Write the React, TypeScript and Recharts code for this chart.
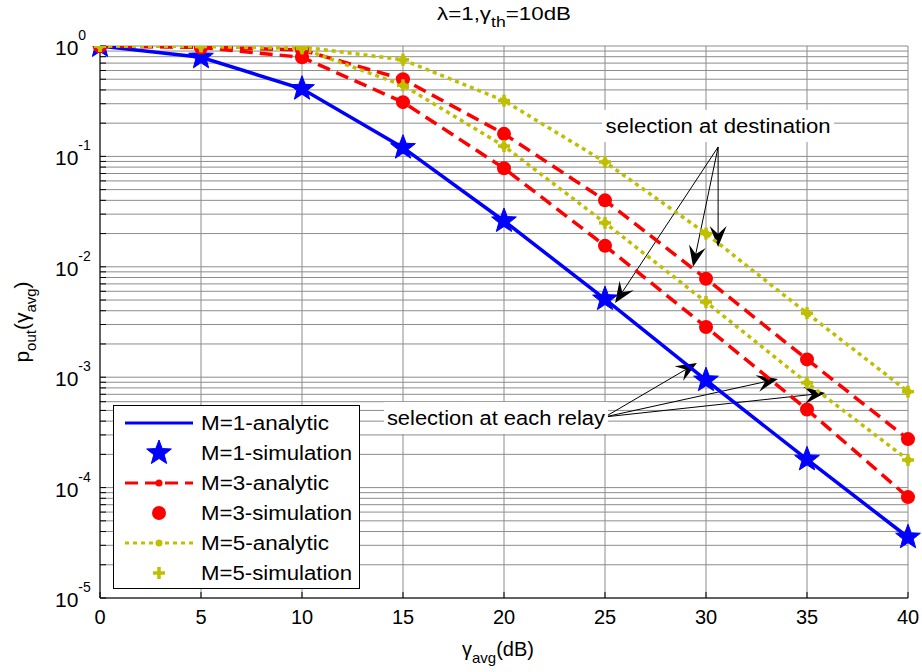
import React from "react";
import { LineChart, Line, XAxis, YAxis, CartesianGrid, ReferenceLine, ReferenceDot } from "recharts";

const FONT = "'Liberation Sans', Arial, Helvetica, sans-serif";

// gamma_avg (dB)
const gammaDb = [0, 5, 10, 15, 20, 25, 30, 35, 40];

// outage probability
const m1 = [1, 0.79, 0.41, 0.12, 0.026, 0.0051, 0.00094, 0.00018, 0.0000355];
const m3Dest = [1, 0.98, 0.92, 0.5, 0.16, 0.04, 0.0078, 0.00145, 0.000275];
const m3Relay = [1, 0.97, 0.79, 0.31, 0.078, 0.0155, 0.00285, 0.00051, 0.000082];
const m5Dest = [1, 1, 0.98, 0.75, 0.32, 0.089, 0.02, 0.0038, 0.00074];
const m5Relay = [1, 0.99, 0.95, 0.44, 0.124, 0.025, 0.0048, 0.00089, 0.000178];

const xTicks = [0, 5, 10, 15, 20, 25, 30, 35, 40];
const decades = [-5, -4, -3, -2, -1];
const mantissas = [1, 2, 3, 4, 5, 6, 7, 8, 9];

const yTicks: number[] = [];
decades.forEach((e) => mantissas.forEach((m) => yTicks.push(m * Math.pow(10, e))));
yTicks.push(1);

const BLUE = "#0000ff";
const RED = "#ff0000";
const YELLOW = "#bfbf00";

const data = gammaDb.map((g, i) => ({
  g,
  m1: m1[i],
  m1Sim: m1[i],
  m3d: m3Dest[i],
  m3r: m3Relay[i],
  m3dSim: m3Dest[i],
  m3rSim: m3Relay[i],
  m5d: m5Dest[i],
  m5r: m5Relay[i],
  m5dSim: m5Dest[i],
  m5rSim: m5Relay[i],
}));

// annotation anchors (data coordinates)
const destFrom = { x: 30.6, y: 0.1217 };
const destTo = [
  { x: 25.5, y: 0.0047 },
  { x: 29.36, y: 0.01 },
  { x: 30.6, y: 0.0151 },
];
const relayFrom = { x: 25.0, y: 0.000437 };
const relayTo = [
  { x: 29.55, y: 0.001345 },
  { x: 33.56, y: 0.000964 },
  { x: 35.9, y: 0.000719 },
];
const destLabel = { x: 30.6, y: 0.1885, text: "selection at destination" };
const relayLabel = { x: 19.6, y: 0.000427, text: "selection at each relay" };

function Star({ cx, cy, r = 13, fill = BLUE }: { cx: number; cy: number; r?: number; fill?: string }) {
  const pts: string[] = [];
  for (let i = 0; i < 10; i++) {
    const rad = i % 2 === 0 ? r : r * 0.42;
    const a = -Math.PI / 2 + (i * Math.PI) / 5;
    pts.push(`${cx + rad * Math.cos(a)},${cy + rad * Math.sin(a)}`);
  }
  return <polygon points={pts.join(" ")} fill={fill} stroke={fill} strokeWidth={1} />;
}

function Plus({ cx, cy }: { cx: number; cy: number }) {
  return (
    <g stroke={YELLOW} strokeWidth={3.5}>
      <line x1={cx - 6} y1={cy} x2={cx + 6} y2={cy} />
      <line x1={cx} y1={cy - 6} x2={cx} y2={cy + 6} />
    </g>
  );
}

const starDot = (p: any) => <Star key={`s-${p.index}`} cx={p.cx} cy={p.cy} />;
const redBig = (p: any) => <circle key={`r-${p.index}`} cx={p.cx} cy={p.cy} r={7} fill={RED} />;
const redSmall = (p: any) => <circle key={`rs-${p.index}`} cx={p.cx} cy={p.cy} r={3.5} fill={RED} />;
const yelSmall = (p: any) => <circle key={`ys-${p.index}`} cx={p.cx} cy={p.cy} r={3.5} fill={YELLOW} />;
const plusDot = (p: any) => <Plus key={`p-${p.index}`} cx={p.cx} cy={p.cy} />;

function YTick(props: any) {
  const { x, y, payload } = props;
  const e = Math.log10(payload.value);
  if (Math.abs(e - Math.round(e)) > 1e-6) return <g />;
  return (
    <text x={x - 45} y={y + 9} fontFamily={FONT} fontSize={21} fill="#000">
      10
      <tspan dy={-15} fontSize={14}>
        {Math.round(e)}
      </tspan>
    </text>
  );
}

function XTick(props: any) {
  const { x, y, payload } = props;
  return (
    <text x={x} y={y + 26} textAnchor="middle" fontFamily={FONT} fontSize={20} fill="#000">
      {payload.value}
    </text>
  );
}

function Arrow(p: any) {
  const { x1, y1, x2, y2 } = p;
  const dx = x2 - x1;
  const dy = y2 - y1;
  const len = Math.hypot(dx, dy) || 1;
  const ux = dx / len;
  const uy = dy / len;
  const nx = -uy;
  const ny = ux;
  const L = 21;
  const W = 8.5;
  const N = 13;
  const bx = x2 - ux * L;
  const by = y2 - uy * L;
  const pts = [
    [x2, y2],
    [bx + nx * W, by + ny * W],
    [x2 - ux * N, y2 - uy * N],
    [bx - nx * W, by - ny * W],
  ]
    .map((q) => q.join(","))
    .join(" ");
  return (
    <g>
      <line x1={x1} y1={y1} x2={x2 - ux * N} y2={y2 - uy * N} stroke="#000" strokeWidth={1} />
      <polygon points={pts} fill="#000" />
    </g>
  );
}

const boxLabel = (text: string, w: number, textLen: number) => (p: any) => (
  <g>
    <rect x={p.cx - w / 2} y={p.cy - 16} width={w} height={32} fill="#fff" />
    <text
      x={p.cx}
      y={p.cy + 7}
      textAnchor="middle"
      fontFamily={FONT}
      fontSize={20}
      fill="#000"
      textLength={textLen}
      lengthAdjust="spacingAndGlyphs"
    >
      {text}
    </text>
  </g>
);

const legendRows = [
  { label: "M=1-analytic", kind: "blueLine" },
  { label: "M=1-simulation", kind: "star" },
  { label: "M=3-analytic", kind: "redLine" },
  { label: "M=3-simulation", kind: "redDot" },
  { label: "M=5-analytic", kind: "yelLine" },
  { label: "M=5-simulation", kind: "plus" },
];

function LegendBox() {
  return (
    <svg width={248} height={185} style={{ position: "absolute", left: 113, top: 405 }}>
      <rect x={0.5} y={0.5} width={246} height={183} fill="#fff" stroke="#000" strokeWidth={1} />
      {legendRows.map((r, i) => {
        const cy = 18 + i * 30;
        let swatch: React.ReactNode = null;
        if (r.kind === "blueLine") swatch = <line x1={12} y1={cy} x2={80} y2={cy} stroke={BLUE} strokeWidth={3} />;
        if (r.kind === "star") swatch = <Star cx={46} cy={cy} />;
        if (r.kind === "redLine")
          swatch = (
            <g>
              <line x1={12} y1={cy} x2={80} y2={cy} stroke={RED} strokeWidth={3} strokeDasharray="13 7" />
              <circle cx={46} cy={cy} r={3.5} fill={RED} />
            </g>
          );
        if (r.kind === "redDot") swatch = <circle cx={46} cy={cy} r={7} fill={RED} />;
        if (r.kind === "yelLine")
          swatch = (
            <g>
              <line x1={12} y1={cy} x2={80} y2={cy} stroke={YELLOW} strokeWidth={3} strokeDasharray="4 4" />
              <circle cx={46} cy={cy} r={3.5} fill={YELLOW} />
            </g>
          );
        if (r.kind === "plus") swatch = <Plus cx={46} cy={cy} />;
        return (
          <g key={r.label}>
            {swatch}
            <text
              x={88}
              y={cy + 7}
              fontFamily={FONT}
              fontSize={20}
              fill="#000"
              textLength={r.label.endsWith("analytic") ? 128 : 151}
              lengthAdjust="spacingAndGlyphs"
            >
              {r.label}
            </text>
          </g>
        );
      })}
    </svg>
  );
}

function Labels() {
  return (
    <svg width={922} height={672} style={{ position: "absolute", left: 0, top: 0, pointerEvents: "none" }}>
      <text x={437} y={20} fontFamily={FONT} fontSize={19} fill="#000" textLength={134} lengthAdjust="spacingAndGlyphs">
        λ=1,γ
        <tspan dy={7} fontSize={15}>
          th
        </tspan>
        <tspan dy={-7}>=10dB</tspan>
      </text>
      <text x={462} y={656} fontFamily={FONT} fontSize={20} fill="#000">
        γ
        <tspan dy={7} fontSize={15}>
          avg
        </tspan>
        <tspan dy={-7}>(dB)</tspan>
      </text>
      <text
        transform="translate(29,322) rotate(-90)"
        textAnchor="middle"
        fontFamily={FONT}
        fontSize={21}
        fill="#000"
      >
        p
        <tspan dy={7} fontSize={15}>
          out
        </tspan>
        <tspan dy={-7}>(γ</tspan>
        <tspan dy={7} fontSize={15}>
          avg
        </tspan>
        <tspan dy={-7}>)</tspan>
      </text>
    </svg>
  );
}

export default function App() {
  return (
    <div style={{ position: "absolute", left: 0, top: 0, width: 922, height: 672, background: "#fff" }}>
      <LineChart width={922} height={672} data={data} margin={{ top: 46, right: 14, bottom: 44, left: 40 }}>
        <CartesianGrid stroke="#8c8c8c" strokeWidth={1} />
        <XAxis
          dataKey="g"
          type="number"
          domain={[0, 40]}
          ticks={xTicks}
          height={30}
          tickSize={-6}
          tickMargin={6}
          tick={<XTick />}
          axisLine={{ stroke: "#000" }}
          tickLine={{ stroke: "#000" }}
        />
        <XAxis
          xAxisId="top"
          orientation="top"
          dataKey="g"
          type="number"
          domain={[0, 40]}
          ticks={xTicks}
          height={0}
          tickSize={-6}
          tick={false}
          axisLine={{ stroke: "#000" }}
          tickLine={{ stroke: "#000" }}
        />
        <YAxis
          type="number"
          scale="log"
          domain={[1e-5, 1]}
          ticks={yTicks}
          allowDataOverflow
          width={60}
          tickSize={-6}
          tickMargin={6}
          tick={<YTick />}
          interval={0}
          axisLine={{ stroke: "#000" }}
          tickLine={{ stroke: "#000" }}
        />
        <YAxis
          yAxisId="right"
          orientation="right"
          type="number"
          scale="log"
          domain={[1e-5, 1]}
          ticks={yTicks}
          allowDataOverflow
          width={0}
          tickSize={-6}
          tick={false}
          interval={0}
          axisLine={{ stroke: "#000" }}
          tickLine={{ stroke: "#000" }}
        />

        <ReferenceDot x={destLabel.x} y={destLabel.y} shape={boxLabel(destLabel.text, 232, 225)} />
        <ReferenceDot x={relayLabel.x} y={relayLabel.y} shape={boxLabel(relayLabel.text, 224, 218)} />
        {destTo.map((t, i) => (
          <ReferenceLine key={`d${i}`} segment={[destFrom, t]} shape={Arrow} />
        ))}
        {relayTo.map((t, i) => (
          <ReferenceLine key={`r${i}`} segment={[relayFrom, t]} shape={Arrow} />
        ))}

        <Line dataKey="m1" stroke={BLUE} strokeWidth={3.5} dot={false} isAnimationActive={false} />
        <Line dataKey="m1Sim" stroke="none" dot={starDot} isAnimationActive={false} />
        <Line dataKey="m3d" stroke={RED} strokeWidth={3.5} strokeDasharray="13 7" dot={redSmall} isAnimationActive={false} />
        <Line dataKey="m3r" stroke={RED} strokeWidth={3.5} strokeDasharray="13 7" dot={redSmall} isAnimationActive={false} />
        <Line dataKey="m3dSim" stroke="none" dot={redBig} isAnimationActive={false} />
        <Line dataKey="m3rSim" stroke="none" dot={redBig} isAnimationActive={false} />
        <Line dataKey="m5d" stroke={YELLOW} strokeWidth={3.5} strokeDasharray="4 4" dot={yelSmall} isAnimationActive={false} />
        <Line dataKey="m5r" stroke={YELLOW} strokeWidth={3.5} strokeDasharray="4 4" dot={yelSmall} isAnimationActive={false} />
        <Line dataKey="m5dSim" stroke="none" dot={plusDot} isAnimationActive={false} />
        <Line dataKey="m5rSim" stroke="none" dot={plusDot} isAnimationActive={false} />
      </LineChart>
      <Labels />
      <LegendBox />
    </div>
  );
}
